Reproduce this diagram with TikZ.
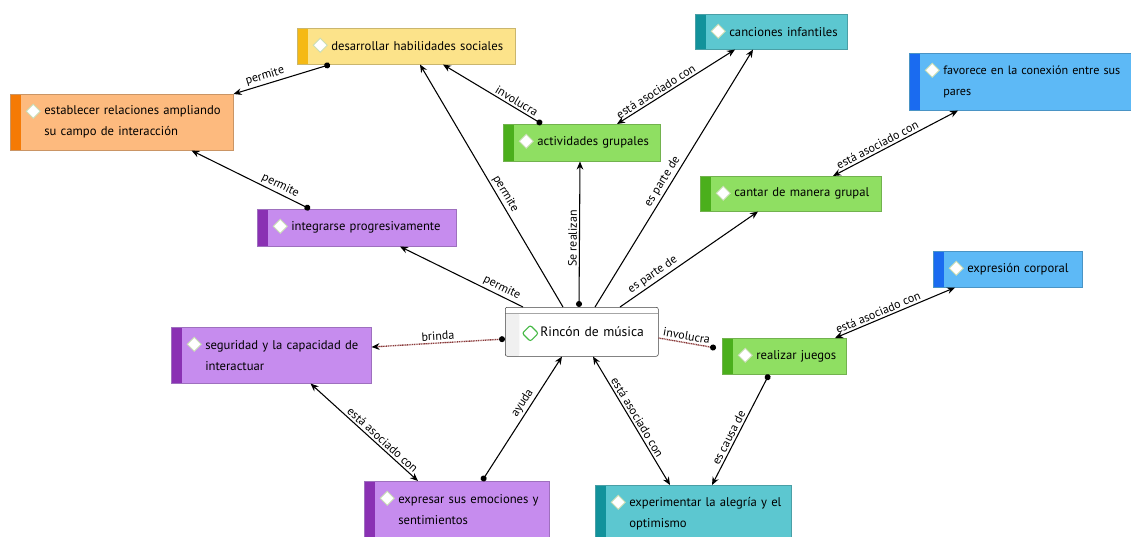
\documentclass[tikz,border=0pt]{standalone}
\usepackage{fontspec}
\setmainfont{PT Sans}
\usetikzlibrary{arrows.meta,calc}
\definecolor{yelF}{HTML}{FCE38A}\definecolor{yelS}{HTML}{F5B914}
\definecolor{oraF}{HTML}{FDBA7E}\definecolor{oraS}{HTML}{F57A05}
\definecolor{teaF}{HTML}{5CC7D0}\definecolor{teaS}{HTML}{12929B}
\definecolor{greF}{HTML}{8FDF62}\definecolor{greS}{HTML}{4BAF1C}
\definecolor{bluF}{HTML}{5DB9F6}\definecolor{bluS}{HTML}{1A6BF0}
\definecolor{purF}{HTML}{C68CEE}\definecolor{purS}{HTML}{8A31B3}
\definecolor{icoline}{HTML}{C9DDB5}
\definecolor{linkred}{HTML}{8A3A3A}
\tikzset{
  concept/.style 2 args={draw=#1!80!black, fill=#1, anchor=north west,
    inner sep=0pt, align=left, font=\fontsize{9.5}{15.75}\selectfont,
    execute at begin node={\leftskip=25.5pt},
    path picture={
      \fill[#2] (path picture bounding box.north west)
        rectangle ($(path picture bounding box.south west)+(11,0)$);
      \filldraw[fill=white, draw=icoline, line width=0.7pt]
        ($(path picture bounding box.north west)+(23,10)$) -- +(7,7) -- +(0,14) -- +(-7,7) -- cycle;}},
  hub/.style={draw=black!75, fill=white, anchor=north west, rounded corners=1.5pt,
    inner sep=0pt, align=left, font=\fontsize{10.2}{15}\selectfont,
    execute at begin node={\leftskip=26.25pt},
    path picture={
      \fill[gray!12] ($(path picture bounding box.north west)+(0,6)$)
        rectangle ($(path picture bounding box.south west)+(14,0)$);
      \draw[gray!70] ($(path picture bounding box.north west)+(0,6)$)
        -- ($(path picture bounding box.north east)+(0,6)$);
      \filldraw[fill=white, draw=green!45!gray, line width=0.8pt]
        ($(path picture bounding box.north west)+(25,18)$) -- +(8,8) -- +(0,16) -- +(-8,8) -- cycle;}},
  lbl/.style={font=\fontsize{9}{11}\selectfont, sloped, above, inner sep=1.5pt},
  arr/.style={line width=0.8pt, -{Stealth[length=6pt,width=5pt]}},
  darr/.style={line width=0.8pt, {Stealth[length=6pt,width=5pt]}-{Stealth[length=6pt,width=5pt]}},
  dotarr/.style={line width=0.8pt, {Circle[length=4.5pt]}-{Stealth[length=6pt,width=5pt]}},
  redline/.style={draw=linkred, line width=1pt, dash pattern=on 0.8pt off 0.5pt}
}
\begin{document}
\begin{tikzpicture}[x=0.75pt, y=-0.75pt]
  \useasboundingbox (0,0) rectangle (1131,536);
  \clip (0,0) rectangle (1131,536);

  % concepts
  \node[hub, text width=114.75pt, minimum height=36.75pt] (rincon) at (505,307) {Rincón de música};
  \node[concept={yelF}{yelS}, text width=163.5pt, minimum height=27pt] (desarrollar) at (297,28) {desarrollar habilidades sociales};
  \node[concept={oraF}{oraS}, text width=167.25pt, minimum height=42pt] (establecer) at (10,94) {establecer relaciones ampliando\\su campo de interacción};
  \node[concept={teaF}{teaS}, text width=114pt, minimum height=26.25pt] (canciones) at (695,14) {canciones infantiles};
  \node[concept={greF}{greS}, text width=117.75pt, minimum height=27.75pt] (actividades) at (503,124) {actividades grupales};
  \node[concept={bluF}{bluS}, text width=180pt, minimum height=42.75pt, font=\fontsize{9.1}{15.75}\selectfont] (favorece) at (909,53) {favorece en la conexión entre sus\\pares};
  \node[concept={greF}{greS}, text width=135.75pt, minimum height=26.25pt] (cantar) at (700,176) {cantar de manera grupal};
  \node[concept={purF}{purS}, text width=149.25pt, minimum height=27.75pt] (integrarse) at (257,209) {integrarse progresivamente};
  \node[concept={purF}{purS}, text width=150pt, minimum height=42pt] (seguridad) at (171,327) {seguridad y la capacidad de\\interactuar};
  \node[concept={greF}{greS}, text width=93pt, minimum height=27pt] (realizar) at (722,338) {realizar juegos};
  \node[concept={bluF}{bluS}, text width=111.75pt, minimum height=27pt] (expresion) at (933,251) {expresión corporal};
  \node[concept={purF}{purS}, text width=138.75pt, minimum height=42pt] (expresar) at (364,481) {expresar sus emociones y\\sentimientos};
  \node[concept={teaF}{teaS}, text width=147pt, minimum height=42pt] (experimentar) at (595,485) {experimentar la alegría y el\\optimismo};

  % links
  \draw[dotarr] ($(desarrollar.south west)+(33,0)$) -- node[lbl, pos=.65] {permite} (establecer.north east);
  \draw[dotarr] ($(integrarse.north west)+(53,0)$) -- node[lbl, pos=.28] {permite} ($(establecer.south east)+(-42,0)$);
  \draw[dotarr] ($(actividades.north west)+(39,0)$) -- node[lbl, pos=.29] {involucra} ($(desarrollar.south west)+(146,0)$);
  \draw[darr] ($(actividades.north west)+(114,0)$) -- node[lbl, pos=.36] {está asociado con} ($(canciones.south west)+(40,0)$);
  \draw[arr] ($(rincon.north west)+(58,0)$) -- node[lbl, pos=.45] {permite} ($(desarrollar.south west)+(123,0)$);
  \draw[dotarr] ($(rincon.north west)+(74,0)$) -- node[lbl, pos=.47] {Se realizan} ($(actividades.south west)+(77,0)$);
  \draw[arr] ($(rincon.north west)+(90,0)$) -- node[lbl, pos=.47] {es parte de} ($(canciones.south west)+(58,0)$);
  \draw[arr] ($(rincon.north west)+(115,0)$) -- node[lbl, pos=.27] {es parte de} ($(cantar.south west)+(58,0)$);
  \draw[arr] ($(rincon.north west)+(18,0)$) -- node[lbl, pos=.2] {permite} ($(integrarse.south west)+(143,0)$);
  \draw[darr] ($(cantar.north west)+(133,0)$) -- node[lbl, pos=.38] {está asociado con} ($(favorece.south west)+(49,0)$);
  \draw[redline, {Circle[length=4.5pt,black]}-{Stealth[length=6pt,width=5pt,black]}] ($(rincon.north west)+(0,32)$) -- node[lbl, pos=.5] {brinda} ($(seguridad.north east)+(0,20)$);
  \draw[redline, -{Circle[length=4.5pt,black]}] ($(rincon.north east)+(0,31)$) -- node[lbl, pos=.47] {involucra} ($(realizar.north west)+(-6,10)$);
  \draw[darr] ($(realizar.north west)+(113,0)$) -- node[lbl, pos=.38] {está asociado con} ($(expresion.south west)+(22,0)$);
  \draw[dotarr] ($(realizar.south west)+(47,0)$) -- node[lbl, pos=.6] {es causa de} ($(experimentar.north west)+(117,0)$);
  \draw[darr] ($(rincon.south west)+(88,0)$) -- node[lbl, pos=.5] {está asociado con} ($(experimentar.north west)+(75,0)$);
  \draw[dotarr] ($(expresar.north west)+(118,0)$) -- node[lbl, pos=.59] {ayuda} ($(rincon.south west)+(57,0)$);
  \draw[darr] ($(seguridad.south east)+(-61,0)$) -- node[lbl, pos=.63] {está asociado con} ($(expresar.north west)+(54,0)$);
\end{tikzpicture}
\end{document}
